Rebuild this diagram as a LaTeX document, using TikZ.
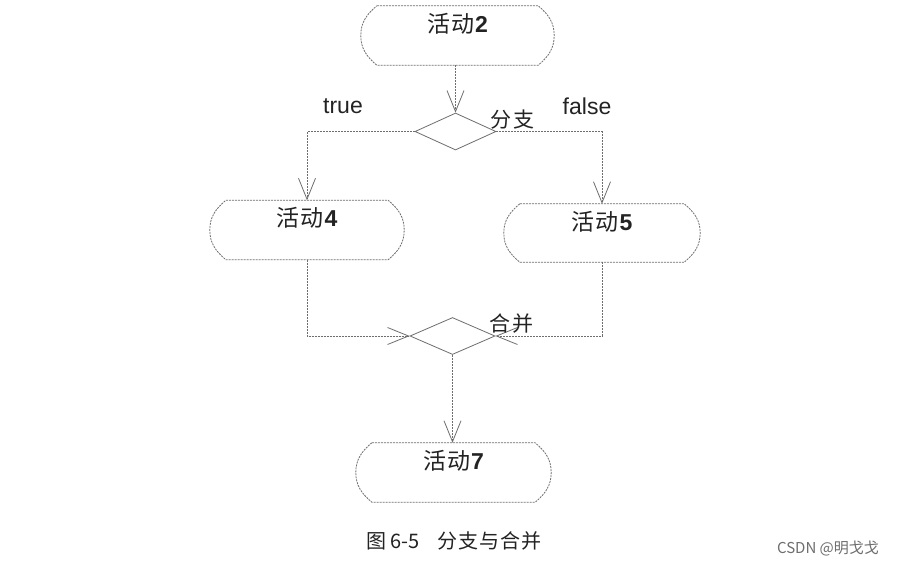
\documentclass[tikz,border=0pt]{standalone}
\usepackage{fontspec}
\setmainfont{Liberation Sans}
\newfontfamily\cjk{Noto Sans CJK SC}
\usetikzlibrary{arrows.meta,shapes.geometric}
\definecolor{linegray}{RGB}{110,110,110}
\definecolor{textgray}{RGB}{35,35,35}
\newcommand\actoutline[1]{%
  \draw[flow] ([xshift=16pt]#1.north west) -- ([xshift=-16pt]#1.north east)
    to[out=-40,in=90] (#1.east) to[out=-90,in=40] ([xshift=-16pt]#1.south east)
    -- ([xshift=16pt]#1.south west) to[out=140,in=-90] (#1.west)
    to[out=90,in=-140] ([xshift=16pt]#1.north west) -- cycle;}
\newcommand\acttext[1]{{\cjk 活\hspace{1pt}动}\hspace{1pt}{\bfseries #1}}
\begin{document}
\begin{tikzpicture}[x=1pt,y=1pt,
  flow/.style={draw=linegray, line width=0.8pt, dash pattern=on 2pt off 1pt},
  arr/.style={flow, -{Straight Barb[length=21pt,width=17pt,line width=0.8pt]}},
  act/.style={inner sep=0pt, minimum width=#1, text height=26pt, text depth=33pt,
    font=\fontsize{23}{25}\selectfont, text=textgray},
  dec/.style={diamond, flow, solid, inner sep=0pt},
  lbl/.style={inner sep=0pt, text=textgray}]
\useasboundingbox (0,0) rectangle (903,-565);
\fill[white] (0,0) rectangle (903,-565);
% activities
\node[act=193pt] (a2) at (457.5,-35.5) {\acttext{2}};
\node[act=194pt] (a4) at (307,-230) {\acttext{4}};
\node[act=196pt, text depth=32pt] (a5) at (602,-233) {\acttext{5}};
\node[act=195pt] (a7) at (453.5,-472.5) {\acttext{7}};
\actoutline{a2}
\actoutline{a4}
\actoutline{a5}
\actoutline{a7}
% decisions
\node[dec, minimum width=81pt, minimum height=37pt] (br) at (455.5,-131.5) {};
\node[dec, minimum width=85pt, minimum height=37pt] (mg) at (452.5,-336) {};
% connectors
\draw[arr] (br.north |- a2.south) -- (br.north);
\draw[arr] (br.west) -| (a4.north);
\draw[arr] (br.east) -| (a5.north);
\draw[arr] (a4.south) |- (mg.west);
\draw[arr] (a5.south) |- (mg.east);
\draw[arr] (mg.south) -- (mg.south |- a7.north);
% labels
\node[lbl, font=\fontsize{23}{25}\selectfont] (tl) at (343,-106) {true};
\node[lbl, font=\fontsize{23}{25}\selectfont] (fl) at (587,-106) {false};
\node[lbl, font=\cjk\fontsize{21}{23}\selectfont] (bl) at (512.5,-120) {分\hspace{2pt}支};
\node[lbl, font=\cjk\fontsize{21}{23}\selectfont] (ml) at (511.5,-324) {合\hspace{2pt}并};
\node[lbl, font=\cjk\fontsize{20}{22}\selectfont] (cap) at (454,-541) {图 6-5\hspace{18pt}分\hspace{1pt}支\hspace{1pt}与\hspace{1pt}合\hspace{1pt}并};
\node[lbl, font=\cjk\fontsize{15}{17}\selectfont, text={rgb,255:red,110;green,110;blue,110}] (wm) at (828,-549) {CSDN @明戈戈};
\end{tikzpicture}
\end{document}
